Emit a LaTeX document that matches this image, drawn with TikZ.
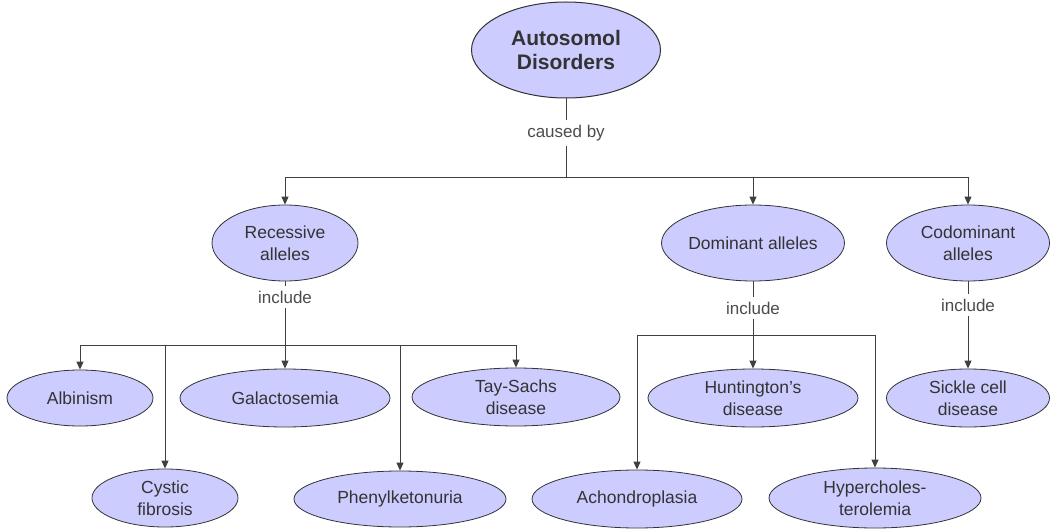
\documentclass[tikz,border=0pt]{standalone}
\usepackage{fontspec}
\setmainfont{Liberation Sans}
\usetikzlibrary{shapes.geometric,arrows.meta}
\definecolor{lav}{RGB}{204,204,255}
\begin{document}
\begin{tikzpicture}[x=1pt,y=-1pt,
  concept/.style={ellipse,draw=black!80,line width=0.8pt,fill=lav,inner sep=0pt,align=center,
    font=\fontsize{17.5}{21.5}\selectfont,text=black!80},
  linklabel/.style={font=\fontsize{17}{20}\selectfont,text=black!70,inner sep=5pt},
  conn/.style={draw=black!75,line width=0.9pt},
  arr/.style={conn,-{Triangle[length=8pt,width=7pt]}}]
\useasboundingbox[fill=white] (0,0) rectangle (1052,529);

% concepts
\node[concept,minimum width=189pt,minimum height=96pt,line width=1pt,
  font=\fontsize{21}{24}\selectfont\bfseries] (top) at (566,50) {Autosomol\\Disorders};
\node[concept,minimum width=146pt,minimum height=76pt] (rec) at (285,243) {Recessive\\alleles};
\node[concept,minimum width=164pt,minimum height=76pt] (dom) at (753,243) {Dominant alleles};
\node[concept,minimum width=163pt,minimum height=76pt] (cod) at (968,243) {Codominant\\alleles};

\node[concept,minimum width=146pt,minimum height=56pt] (alb) at (80,398) {Albinism};
\node[concept,minimum width=146pt,minimum height=58pt] (cys) at (165,498) {Cystic\\fibrosis};
\node[concept,minimum width=210pt,minimum height=58pt] (gal) at (285,398) {Galactosemia};
\node[concept,minimum width=212pt,minimum height=56pt] (phe) at (400,499) {Phenylketonuria};
\node[concept,minimum width=208pt,minimum height=58pt] (tay) at (516,397) {Tay-Sachs\\disease};
\node[concept,minimum width=210pt,minimum height=58pt] (hun) at (753,398) {Huntington's\\disease};
\node[concept,minimum width=210pt,minimum height=58pt] (ach) at (637,499) {Achondroplasia};
\node[concept,minimum width=212pt,minimum height=60pt] (hyp) at (875,498) {Hypercholes-\\terolemia};
\node[concept,minimum width=163pt,minimum height=58pt] (sic) at (968,398) {Sickle cell\\disease};

% link labels
\node[linklabel] (l1) at (566,133) {caused by};
\node[linklabel] (l2) at (285,297) {include};
\node[linklabel] (l3) at (753,308) {include};
\node[linklabel] (l4) at (968,305) {include};

\coordinate (h1) at (566,177);
\coordinate (h2) at (285,345);
\coordinate (h3) at (753,335);

% top level
\draw[conn] (top) -- (l1);
\draw[conn] (l1) -- (h1);
\draw[conn] (rec|-h1) -- (cod|-h1);
\draw[arr] (rec|-h1) -- (rec);
\draw[arr] (dom|-h1) -- (dom);
\draw[arr] (cod|-h1) -- (cod);

% recessive
\draw[conn] (rec) -- (l2);
\draw[arr] (l2) -- (gal);
\draw[conn] (alb|-h2) -- (tay|-h2);
\draw[arr] (alb|-h2) -- (alb);
\draw[arr] (cys|-h2) -- (cys);
\draw[arr] (phe|-h2) -- (phe);
\draw[arr] (tay|-h2) -- (tay);

% dominant
\draw[conn] (dom) -- (l3);
\draw[arr] (l3) -- (hun);
\draw[conn] (ach|-h3) -- (hyp|-h3);
\draw[arr] (ach|-h3) -- (ach);
\draw[arr] (hyp|-h3) -- (hyp);

% codominant
\draw[conn] (cod) -- (l4);
\draw[arr] (l4) -- (sic);
\end{tikzpicture}
\end{document}
